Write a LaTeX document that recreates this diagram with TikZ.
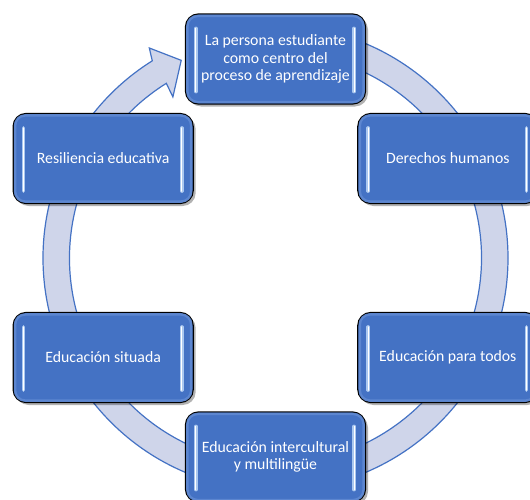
\documentclass[tikz,border=0pt]{standalone}
\usepackage{fontspec}
\setmainfont{Carlito}
\usetikzlibrary{shadows}
\definecolor{boxblue}{RGB}{68,114,196}
\definecolor{boxedge}{RGB}{98,140,212}
\definecolor{ringfill}{RGB}{207,213,234}
\definecolor{ringline}{RGB}{68,114,196}
\definecolor{hilite}{RGB}{170,200,240}
\tikzset{
  stagebox/.style={rectangle, rounded corners=13pt, minimum width=180pt, minimum height=90pt,
    fill=boxblue, draw=black, line width=1.3pt, text=white, align=center,
    font=\fontsize{15.8pt}{17.5pt}\selectfont, inner sep=2pt,
    drop shadow={shadow xshift=2.5pt, shadow yshift=-2.5pt, opacity=0.3, fill=black}},
  ringband/.style={fill=ringfill, draw=ringline, line width=1.2pt, line join=miter},
  barglow/.style={draw=hilite, line width=3.4pt, line cap=round},
  barcore/.style={draw=white, line width=1.2pt, line cap=round},
  inneredge/.style={draw=boxedge, line width=2.5pt, rounded corners=10pt, opacity=0.8}
}
\newcommand{\bevelbars}[1]{%
  \draw[inneredge] ([xshift=2.6pt,yshift=2.6pt]#1.south west) rectangle ([xshift=-2.6pt,yshift=-2.6pt]#1.north east);
  \draw[barglow] ([xshift=11pt,yshift=-15pt]#1.north west) -- ([xshift=11pt,yshift=13pt]#1.south west);
  \draw[barcore] ([xshift=11pt,yshift=-15pt]#1.north west) -- ([xshift=11pt,yshift=13pt]#1.south west);
  \draw[barglow] ([xshift=-12pt,yshift=-15pt]#1.north east) -- ([xshift=-12pt,yshift=13pt]#1.south east);
  \draw[barcore] ([xshift=-12pt,yshift=-15pt]#1.north east) -- ([xshift=-12pt,yshift=13pt]#1.south east);
}
\begin{document}
\begin{tikzpicture}[x=1pt,y=1pt]
\clip (-275.5,-241) rectangle (254.5,258);
\fill[white] (-275.5,-241) rectangle (254.5,258);
% circular arrow band
\path[ringband] (90:232.5) arc[start angle=90, end angle=-238, radius=232.5]
  -- (-239:245) -- (-244.5:219) -- (-237.5:191) -- (-238:206)
  arc[start angle=-238, end angle=90, radius=206] -- cycle;
% stages
\node[stagebox] (top) at (90:199) {La persona estudiante\\como centro del\\proceso de aprendizaje};
\node[stagebox] (dh) at (30:199) {Derechos humanos};
\node[stagebox] (ept) at (-30:199) {Educación para todos};
\node[stagebox] (eim) at (-90:199) {Educación intercultural\\y multilingüe};
\node[stagebox] (es) at (210:199) {Educación situada};
\node[stagebox] (re) at (150:199) {Resiliencia educativa};
\foreach \n in {top,dh,ept,eim,es,re} {\bevelbars{\n}}
\end{tikzpicture}
\end{document}
